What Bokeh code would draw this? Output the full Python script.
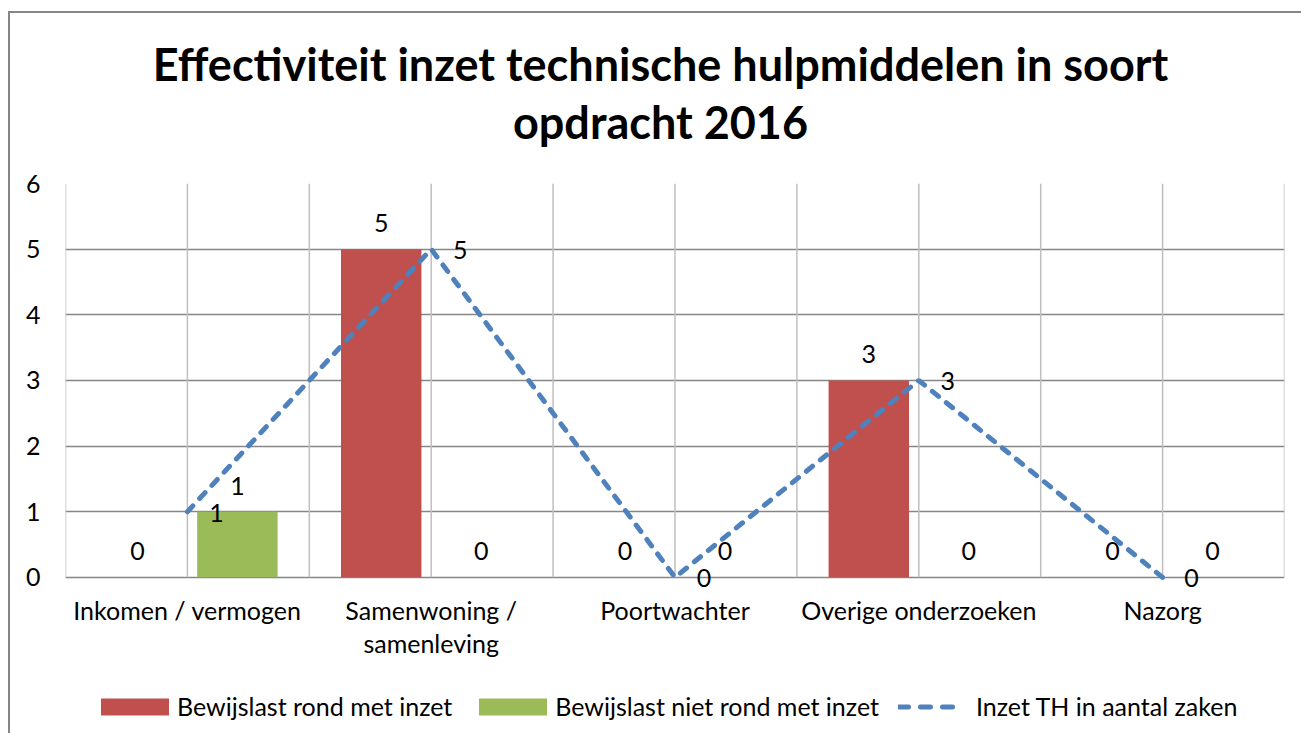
import numpy as np
from bokeh.plotting import figure
from bokeh.layouts import column
from bokeh.models import (ColumnDataSource, FixedTicker, Label, Legend, LegendItem, Range1d)
from bokeh.core.properties import value
from bokeh.embed import file_html
from bokeh.resources import INLINE

# ---- data ----
categories = ["Inkomen / vermogen", "Samenwoning /\nsamenleving", "Poortwachter",
              "Overige onderzoeken", "Nazorg"]
rond = [0, 5, 0, 3, 0]          # Bewijslast rond met inzet
niet_rond = [1, 0, 0, 0, 0]     # Bewijslast niet rond met inzet
inzet = [1, 5, 0, 3, 0]         # Inzet TH in aantal zaken
y_ticks = [0, 1, 2, 3, 4, 5, 6]
title_lines = ["Effectiviteit inzet technische hulpmiddelen in soort", "opdracht 2016"]
series_names = ["Bewijslast rond met inzet", "Bewijslast niet rond met inzet",
                "Inzet TH in aantal zaken"]

FONT = "Lato"
FS = "25px"
RED, GREEN, BLUE = "#C0504D", "#9BBB59", "#4F81BD"
DARK_GRID, LIGHT_GRID = "#868686", "#BFBFBF"
W = 1291
LINE_W, LINE_DASH = 5, "8 10"

n = len(categories)
centers = np.arange(n) + 0.5
offset, bar_w = 0.205, 0.33
grid_x = np.arange(0, n + 0.01, 0.5)

src = ColumnDataSource(dict(
    xc=centers, xr=centers - offset, xg=centers + offset,
    rond=rond, niet=niet_rond, inzet=inzet,
    t_rond=[str(v) for v in rond], t_niet=[str(v) for v in niet_rond],
    t_inzet=[str(v) for v in inzet],
))

# ---------------- title strip (frame is aligned with the chart frame) ----------------
TH = 147
tf = figure(width=W, height=TH, output_backend="svg", toolbar_location=None,
            x_axis_type=None, y_axis_type=None, x_range=Range1d(0, 1), y_range=Range1d(0, 1),
            min_border=0, outline_line_color=None)
for txt, yy in zip(title_lines, (TH - 50, TH - 108)):
    tf.add_layout(Label(x=595, y=yy, x_units="screen", y_units="screen", text=txt,
                        text_align="center", text_baseline="middle", text_font=FONT,
                        text_font_size="45px", text_font_style="bold", text_color="black"))

# ---------------- main chart ----------------
p = figure(width=W, height=523, output_backend="svg", toolbar_location=None,
           x_range=Range1d(0, n), y_range=Range1d(-0.2, 6),
           min_border_left=55, min_border_right=17, min_border_top=23, min_border_bottom=93)
p.outline_line_color = None

# horizontal grid (the 0-line doubles as category axis line)
p.ygrid.ticker = FixedTicker(ticks=y_ticks)
p.ygrid.grid_line_color = DARK_GRID
p.ygrid.grid_line_width = 1.5
p.xgrid.visible = False
# vertical grid lines, from 0 to 6 only
p.segment(x0=grid_x, y0=[y_ticks[0]] * len(grid_x), x1=grid_x, y1=[y_ticks[-1]] * len(grid_x),
          line_color=LIGHT_GRID, line_width=1.5)

# axes
p.yaxis.ticker = FixedTicker(ticks=y_ticks)
p.yaxis.axis_line_color = None
p.yaxis.major_tick_line_color = None
p.yaxis.minor_tick_line_color = None
p.yaxis.major_tick_out = 0
p.yaxis.major_label_standoff = 25
p.xaxis.ticker = FixedTicker(ticks=list(centers))
p.xaxis.major_label_overrides = {float(c): lab for c, lab in zip(centers, categories)}
p.xaxis.axis_line_color = None
p.xaxis.major_tick_line_color = None
p.xaxis.minor_tick_line_color = None
p.xaxis.major_tick_out = 0
p.xaxis.major_label_standoff = 4
p.xaxis.major_label_text_line_height = 1.13
for ax in (p.xaxis[0], p.yaxis[0]):
    ax.major_label_text_font = FONT
    ax.major_label_text_font_size = FS
    ax.major_label_text_color = "black"

# bars
p.vbar(x="xr", top="rond", width=bar_w, bottom=0, source=src, fill_color=RED, line_color=None)
p.vbar(x="xg", top="niet", width=bar_w, bottom=0, source=src, fill_color=GREEN, line_color=None)
# line
p.line(x="xc", y="inzet", source=src, line_color=BLUE, line_width=LINE_W,
       line_dash=LINE_DASH, line_cap="round")

# data labels
lab_kw = dict(text_font=value(FONT), text_font_size=FS, text_color="black",
              text_align="center", source=src)
p.text(x="xr", y="rond", text="t_rond", text_baseline="bottom", y_offset=-17, **lab_kw)
p.text(x="xg", y="niet", text="t_niet", text_baseline="bottom", y_offset=-17, **lab_kw)
p.text(x="xc", y="inzet", text="t_inzet", text_baseline="middle", x_offset=29, y_offset=1,
       **lab_kw)

# ---------------- legend strip ----------------
# same series drawn again, outside this strip's visible range, only to feed the legend
lf = figure(width=W, height=50, output_backend="svg", toolbar_location=None,
            x_axis_type=None, y_axis_type=None, x_range=Range1d(0, n), y_range=Range1d(100, 101),
            min_border=0, outline_line_color=None)
lr_red = lf.vbar(x="xr", top="rond", width=bar_w, source=src, fill_color=RED, line_color=None)
lr_green = lf.vbar(x="xg", top="niet", width=bar_w, source=src, fill_color=GREEN,
                   line_color=None)
lr_line = lf.line(x="xc", y="inzet", source=src, line_color=BLUE, line_width=LINE_W,
                  line_dash="10 12", line_cap="round")
common = dict(orientation="horizontal", padding=0, margin=0, border_line_color=None,
              background_fill_alpha=0, label_text_font=FONT, label_text_font_size=FS,
              label_text_color="black", label_height=30)
leg_bars = Legend(items=[LegendItem(label=series_names[0], renderers=[lr_red]),
                         LegendItem(label=series_names[1], renderers=[lr_green])],
                  location=(27, 12), glyph_width=85, glyph_height=21, label_standoff=0,
                  spacing=18, **common)
leg_line = Legend(items=[LegendItem(label=series_names[2], renderers=[lr_line])],
                  location=(833, 12), glyph_width=62, glyph_height=21, label_standoff=16,
                  **common)
lf.add_layout(leg_bars, "center")
lf.add_layout(leg_line, "center")

layout = column(tf, p, lf, spacing=0,
                styles={"border-left": f"2px solid {DARK_GRID}",
                        "border-top": f"2px solid {DARK_GRID}",
                        "margin-top": "11px", "margin-left": "8px"})

open("out.html", "w").write(file_html(layout, INLINE))
